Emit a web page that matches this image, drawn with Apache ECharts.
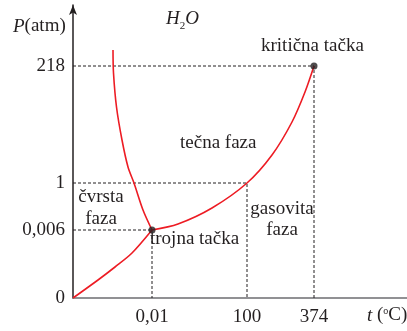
<!DOCTYPE html>
<html>
<head>
<meta charset="utf-8">
<script src="https://cdn.jsdelivr.net/npm/echarts@6/dist/echarts.min.js"></script>
<style>
  html, body { margin: 0; padding: 0; background: #fff; }
  #chart { width: 407px; height: 331px; }
</style>
</head>
<body>
<div id="chart"></div>
<script>
// schematic coordinates (the diagram is not to scale)
const xTicks = [79, 174, 241];
const xTickLabels = ['0,01', '100', '374'];
const yTicks = [0, 68, 115, 232];
const yTickLabels = ['0', '0,006', '1', '218'];

const sublimation = [[0, 0], [25, 18], [42, 31], [59, 45], [79, 68]];
const melting = [[79, 68], [70, 88], [61, 115], [55, 131], [49, 158], [43.5, 191], [40.5, 225], [40, 248]];
const vaporization = [[79, 68], [105, 74], [139, 90], [174, 115], [199, 143], [219, 176], [232, 206], [241, 232]];

const triplePoint = [79, 68];
const criticalPoint = [241, 232];
const boilPoint = [174, 115];

const FONT = 'Liberation Serif';
const TXT = '#231f20';
const RED = '#ed1c24';

function tickLabel(ticks, labels) {
  return v => {
    const i = ticks.indexOf(v);
    return i >= 0 ? labels[i] : '';
  };
}

function dashed(pt) {
  return {
    type: 'line', silent: true, symbol: 'none',
    lineStyle: { color: TXT, width: 1, type: [3, 2] },
    data: [[0, pt[1]], pt, [pt[0], 0]], z: 1
  };
}

function curve(data) {
  return {
    type: 'line', smooth: 0.3, symbol: 'none', data: data,
    lineStyle: { color: RED, width: 1.6 }, z: 3
  };
}

const chart = echarts.init(document.getElementById('chart'));
chart.setOption({
  animation: false,
  grid: { left: 73, top: 5, right: 0, bottom: 33, containLabel: false },
  xAxis: {
    type: 'value', min: 0, max: 334,
    axisLine: { show: true, lineStyle: { color: '#6d6e71', width: 1.5 } },
    axisTick: { show: false },
    splitLine: { show: false },
    axisLabel: {
      customValues: xTicks,
      formatter: tickLabel(xTicks, xTickLabels),
      fontFamily: FONT, fontSize: 19, color: TXT, margin: 10
    }
  },
  yAxis: {
    type: 'value', min: 0, max: 293,
    axisLine: {
      show: true, lineStyle: { color: TXT, width: 1.5 },
      symbol: ['none', 'arrow'], symbolSize: [6, 10]
    },
    axisTick: { show: false },
    splitLine: { show: false },
    axisLabel: {
      customValues: yTicks,
      formatter: tickLabel(yTicks, yTickLabels),
      fontFamily: FONT, fontSize: 19, color: TXT, margin: 8
    }
  },
  series: [
    dashed(triplePoint),
    dashed(boilPoint),
    dashed(criticalPoint),
    curve(sublimation),
    curve(melting),
    curve(vaporization),
    { type: 'scatter', symbolSize: 7, data: [triplePoint, criticalPoint],
      itemStyle: { color: TXT }, z: 4 }
  ],
  graphic: [
    { type: 'text', left: 13, top: 17, style: {
      text: '{i|P}(atm)', font: '19px ' + FONT, fill: TXT,
      rich: { i: { fontStyle: 'italic', fontFamily: FONT, fontSize: 19 } } } },
    { type: 'text', left: 166, top: 9, style: {
      text: '{i|H}{s|2}{i|O}', font: '19px ' + FONT, fill: TXT,
      rich: {
        i: { fontStyle: 'italic', fontFamily: FONT, fontSize: 19, verticalAlign: 'top' },
        s: { fontFamily: FONT, fontSize: 11, padding: [12, 0, 0, 0] }
      } } },
    { type: 'text', left: 261, top: 37, style: { text: 'kritična tačka', font: '19px ' + FONT, fill: TXT } },
    { type: 'text', left: 180, top: 134, style: { text: 'tečna faza', font: '19px ' + FONT, fill: TXT } },
    { type: 'text', x: 101, y: 186, style: { text: 'čvrsta\nfaza', font: '19px ' + FONT, fill: TXT, align: 'center', lineHeight: 22 } },
    { type: 'text', x: 282, y: 199, style: { text: 'gasovita\nfaza', font: '19px ' + FONT, fill: TXT, align: 'center', lineHeight: 21 } },
    { type: 'text', left: 150, top: 230, style: { text: 'trojna tačka', font: '19px ' + FONT, fill: TXT } },
    { type: 'text', left: 367, top: 306, style: {
      text: '{i|t} ({s|o}C)', font: '19px ' + FONT, fill: TXT,
      rich: {
        i: { fontStyle: 'italic', fontFamily: FONT, fontSize: 19 },
        s: { fontFamily: FONT, fontSize: 10, padding: [0, 0, 9, 0] }
      } } }
  ]
});
</script>
</body>
</html>
